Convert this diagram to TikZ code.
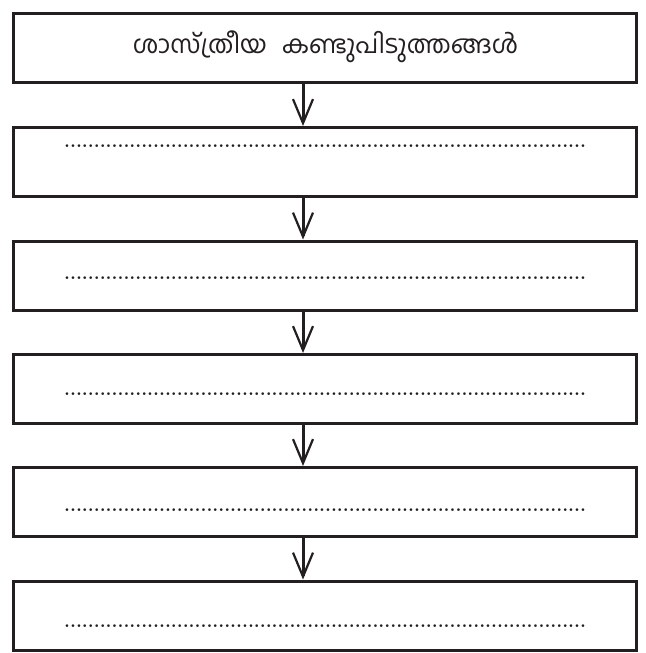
\documentclass[tikz,border=0pt]{standalone}
\usepackage{fontspec}
\newfontfamily\mlfont[Script=Malayalam]{Hind Kochi}
\usetikzlibrary{arrows.meta}
\definecolor{ink}{HTML}{231F20}
\newcommand{\dotrow}{\hbox to 521.84pt{\xleaders\hbox to 5.93pt{\hss\fontsize{19pt}{19pt}\bfseries\selectfont.\hss}\hfill}}
\begin{document}
\begin{tikzpicture}[x=1pt,y=-1pt,
  box/.style={draw=ink,line width=3pt,rectangle,minimum width=623pt,minimum height=69pt,inner sep=0pt},
  conn/.style={draw=ink,line width=3pt,-{Straight Barb[length=24pt,width=20pt,line width=2.2pt]}},
  dotline/.style={inner sep=0pt,anchor=west,text=ink}]
\useasboundingbox (0,0) rectangle (645,653);
\node[box] (b1) at (325,48) {};
\node[box] (b2) at (325,162) {};
\node[box] (b3) at (325,275.5) {};
\node[box] (b4) at (325,389) {};
\node[box] (b5) at (325,502) {};
\node[box] (b6) at (325,615.5) {};
\node[text=ink,inner sep=0pt] (t1) at (325.5,47) {\mlfont\fontsize{25pt}{29pt}\selectfont ശാസ്ത്രീയ\hspace{0.6em}കണ്ടുപിടുത്തങ്ങൾ};
\node[dotline] (d2) at (64,146) {\dotrow};
\node[dotline] (d3) at (64,278) {\dotrow};
\node[dotline] (d4) at (64,394) {\dotrow};
\node[dotline] (d5) at (64,510) {\dotrow};
\node[dotline] (d6) at (64,626) {\dotrow};
\coordinate (ax) at (303,0);
\draw[conn] (b1.south -| ax) -- (b2.north -| ax);
\draw[conn] (b2.south -| ax) -- (b3.north -| ax);
\draw[conn] (b3.south -| ax) -- (b4.north -| ax);
\draw[conn] (b4.south -| ax) -- (b5.north -| ax);
\draw[conn] (b5.south -| ax) -- (b6.north -| ax);
\end{tikzpicture}
\end{document}
